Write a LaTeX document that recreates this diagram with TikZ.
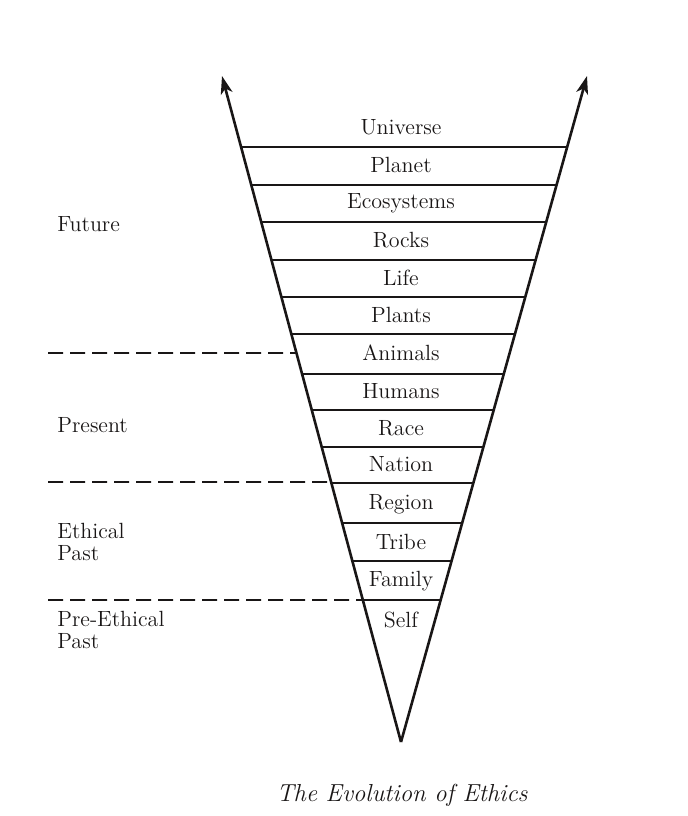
\documentclass[tikz,border=0pt]{standalone}
\usepackage{tikz}
\usetikzlibrary{arrows.meta, calc}
\definecolor{inkblack}{RGB}{25,22,22}

\begin{document}
\begin{tikzpicture}[x=0.5pt, y=-0.5pt, >={Stealth[length=9pt, width=6pt, inset=2.5pt]},
  edge/.style={inkblack, line width=1.3pt},
  rung/.style={inkblack, line width=0.9pt},
  era/.style={inkblack, dash pattern=on 7.5pt off 3.5pt, line width=0.9pt},
  level/.style={inkblack, font=\fontsize{11}{13}\selectfont, inner sep=0pt},
  epoch/.style={inkblack, font=\fontsize{11}{11.2}\selectfont, align=left, anchor=west, inner sep=0pt}]

\useasboundingbox (0,0) rectangle (688,816);

% funnel
\coordinate (apex) at (401,742);
\coordinate (ltip) at (222,76);
\coordinate (rtip) at (587,76);
\draw[edge, ->] (apex) -- (ltip);
\draw[edge, ->] (apex) -- (rtip);

% rungs between the levels
\foreach \y [count=\i] in {147,185,222,260,297,334,374,410,447,483,523,561,600}{
  \pgfmathsetmacro{\t}{(742-\y)/666}
  \coordinate (L\i) at ($(apex)!\t!(ltip)$);
  \coordinate (R\i) at ($(apex)!\t!(rtip)$);
  \draw[rung] (L\i) -- (R\i);
}

% level names
\foreach \name/\y in {Universe/127, Planet/165, Ecosystems/203, Rocks/240, Life/278,
  Plants/315, Animals/353, Humans/391, Race/428, Nation/464, Region/504,
  Tribe/542, Family/581, Self/620}{
  \node[level] (\name) at (401,\y) {\name};
}

% eras on the left
\coordinate (d1) at (48,353);
\coordinate (d2) at (48,482);
\coordinate (d3) at (48,600);
\draw[era] (d1) -- ($(apex)!0.5841!(ltip)$);
\draw[era] (d2) -- ($(apex)!0.3904!(ltip)$);
\draw[era] (d3) -- ($(apex)!0.2132!(ltip)$);

\node[epoch] (future) at (57,224) {Future};
\node[epoch] (present) at (57,425) {Present};
\node[epoch] (ethical) at (57,542) {Ethical\\Past};
\node[epoch] (preethical) at (57,630) {Pre-Ethical\\Past};

% caption
\node[inkblack, font=\fontsize{12.3}{14}\selectfont\itshape] (caption) at (402,795) {The Evolution of Ethics};

\end{tikzpicture}
\end{document}
